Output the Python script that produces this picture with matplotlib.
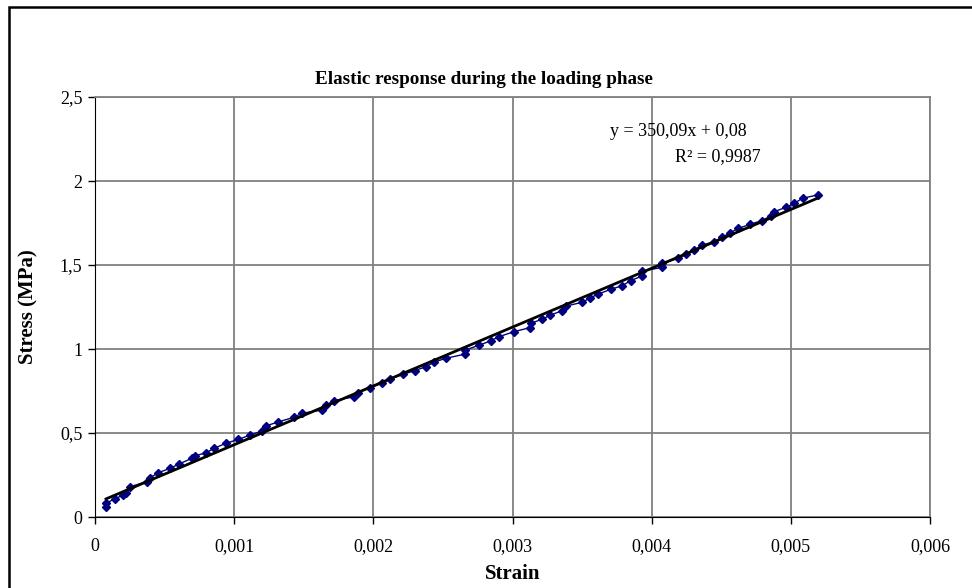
# -*- coding: utf-8 -*-
"""
Elastic response during the loading phase - stress vs strain with linear trend
"""
import matplotlib
matplotlib.use("Agg")
import matplotlib.pyplot as plt
from matplotlib.ticker import FuncFormatter
from matplotlib.patches import Rectangle
import numpy as np

plt.rcParams['font.family'] = ['Liberation Serif', 'DejaVu Serif']

strain = [0.000079, 0.000079, 0.000144, 0.000204, 0.000220, 0.000252, 0.000372, 0.000396,
          0.000456, 0.000540, 0.000600, 0.000695, 0.000715, 0.000799, 0.000856, 0.000942,
          0.001031, 0.001115, 0.001199, 0.001228, 0.001314, 0.001427, 0.001487, 0.001631,
          0.001662, 0.001715, 0.001863, 0.001887, 0.001978, 0.002063, 0.002118, 0.002211,
          0.002297, 0.002379, 0.002439, 0.002523, 0.002662, 0.002662, 0.002758, 0.002842,
          0.002902, 0.003010, 0.003125, 0.003130, 0.003213, 0.003273, 0.003357, 0.003388,
          0.003501, 0.003560, 0.003616, 0.003705, 0.003789, 0.003849, 0.003933, 0.003933,
          0.004077, 0.004077, 0.004192, 0.004250, 0.004304, 0.004360, 0.004448, 0.004508,
          0.004563, 0.004623, 0.004707, 0.004790, 0.004856, 0.004880, 0.004964, 0.005024,
          0.005084, 0.005192]
stress = [0.058, 0.082, 0.109, 0.131, 0.145, 0.180, 0.210, 0.234,
          0.264, 0.290, 0.314, 0.349, 0.363, 0.383, 0.409, 0.439,
          0.462, 0.488, 0.512, 0.542, 0.565, 0.593, 0.617, 0.637,
          0.667, 0.692, 0.716, 0.740, 0.770, 0.796, 0.820, 0.849,
          0.871, 0.895, 0.923, 0.945, 0.970, 0.994, 1.022, 1.048,
          1.073, 1.103, 1.127, 1.153, 1.177, 1.202, 1.228, 1.256,
          1.278, 1.305, 1.327, 1.355, 1.377, 1.407, 1.435, 1.464,
          1.486, 1.510, 1.540, 1.565, 1.589, 1.617, 1.639, 1.665,
          1.692, 1.718, 1.742, 1.764, 1.792, 1.817, 1.843, 1.867,
          1.897, 1.917]

# trendline as printed on the chart
slope = 350.09
intercept = 0.08

x_ticks = [0, 0.001, 0.002, 0.003, 0.004, 0.005, 0.006]
y_ticks = [0, 0.5, 1, 1.5, 2, 2.5]


def comma_fmt(v, pos):
    return ('%g' % round(v, 6)).replace('.', ',')


fig = plt.figure(figsize=(9.72, 5.88), dpi=100)
fig.patch.set_facecolor('white')
ax = fig.add_axes([95 / 972, 71 / 588, 835 / 972, 420 / 588])

# outer chart border (only top/left visible in the crop)
fig.patches.append(Rectangle((8.5 / 972, -0.1), 1.2, 1 - 7 / 588 + 0.1,
                             transform=fig.transFigure, fill=False,
                             edgecolor='black', linewidth=1.8))

ax.plot(strain, stress, color='#000080', linewidth=1.0, marker='D',
        markersize=4.5, markerfacecolor='#000080', markeredgecolor='#000080', zorder=3)

xt = np.array([min(strain), max(strain)])
ax.plot(xt, slope * xt + intercept, color='black', linewidth=2.0, zorder=4)

ax.set_xlim(0, 0.006)
ax.set_ylim(0, 2.5)
ax.set_xticks(x_ticks)
ax.set_yticks(y_ticks)
ax.xaxis.set_major_formatter(FuncFormatter(comma_fmt))
ax.yaxis.set_major_formatter(FuncFormatter(comma_fmt))
ax.tick_params(axis='both', direction='out', length=5, width=1, labelsize=13, colors='black')
ax.tick_params(axis='x', pad=10)
ax.tick_params(axis='y', pad=4)

ax.grid(True, color='#808080', linewidth=1.3)
ax.set_axisbelow(True)
ax.spines['top'].set_color('#808080')
ax.spines['right'].set_color('#808080')
ax.spines['top'].set_linewidth(1.3)
ax.spines['right'].set_linewidth(1.3)
ax.spines['left'].set_color('black')
ax.spines['bottom'].set_color('black')

ax.text(0.004194, 2.292, 'y = 350,09x + 0,08', ha='center', va='center', fontsize=13)
ax.text(0.004475, 2.143, 'R² = 0,9987', ha='center', va='center', fontsize=13)

fig.text(484 / 972, 1 - 80 / 588, 'Elastic response during the loading phase',
         ha='center', va='center', fontsize=13.8, fontweight='bold')
fig.text(28 / 972, 1 - 307 / 588, 'Stress (MPa)', rotation=90,
         ha='center', va='center', fontsize=15, fontweight='bold')
fig.text(513 / 972, 1 - 574 / 588, 'Strain', ha='center', va='center',
         fontsize=15, fontweight='bold')

plt.savefig('out.png', dpi=100)
